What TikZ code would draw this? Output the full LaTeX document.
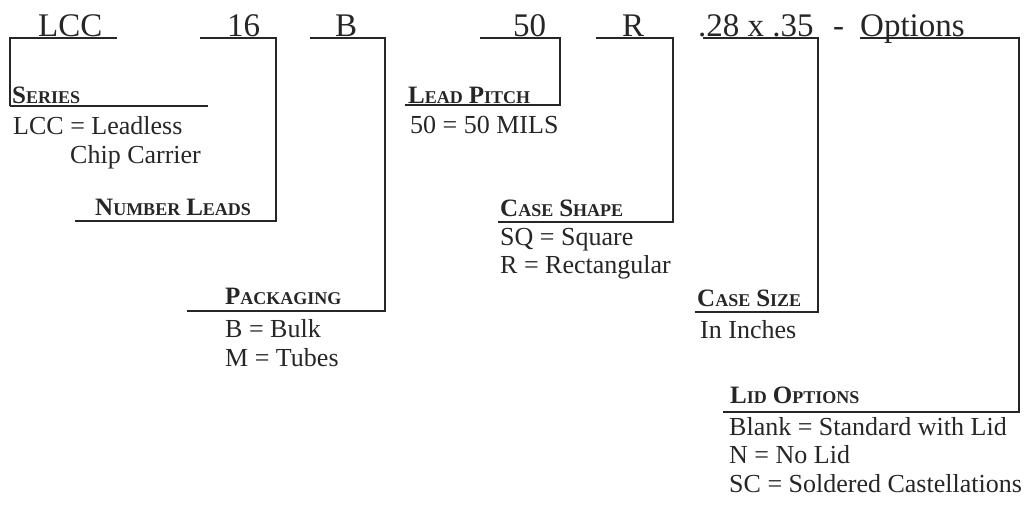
\documentclass[tikz,border=0pt]{standalone}
\usepackage{fontspec}
\setmainfont{Liberation Serif}
\usetikzlibrary{positioning}
\newcommand{\hdr}{\fontsize{33}{36}\selectfont}
\newcommand{\txt}{\fontsize{26}{28}\selectfont}
\newcommand{\sch}[2]{{\bfseries\fontsize{25}{28}\selectfont #1}{\bfseries\fontsize{18}{20}\selectfont #2}}
\newcommand{\gap}{\hspace{6pt}}

\begin{document}
\begin{tikzpicture}[x=1pt, y=-1pt,
    every node/.style={inner sep=0pt, anchor=base west, text=black!85},
    bracket/.style={line width=1.6pt, black!85}]
        \useasboundingbox (0,0) rectangle (1027,504);

        % code fields
        \node (lcc) at (38,36) {\hdr LCC};
        \node (leads) at (227,36) {\hdr 16};
        \node (pack) at (335,36) {\hdr B};
        \node (pitch) at (513,36) {\hdr 50};
        \node (shape) at (622,36) {\hdr R};
        \node (size) at (698,36) {\hdr .28 x .35};
        \node (dash) at (833,36) {\hdr -};
        \node (opt) at (860,36) {\hdr Options};

        % headings
        \node (t1) at (12,103) {\sch{S}{ERIES}};
        \node (t2) at (95,215) {\sch{N}{UMBER}\gap\sch{L}{EADS}};
        \node (t3) at (225,304) {\sch{P}{ACKAGING}};
        \node (t4) at (408,103) {\sch{L}{EAD}\gap\sch{P}{ITCH}};
        \node (t5) at (500,216) {\sch{C}{ASE}\gap\sch{S}{HAPE}};
        \node (t6) at (697,306) {\sch{C}{ASE}\gap\sch{S}{IZE}};
        \node (t7) at (730,403) {\sch{L}{ID}\gap\sch{O}{PTIONS}};

        % values
        \node (v1) at (13,134) {\txt LCC = Leadless};
        \node (v1b) at (70,163) {\txt Chip Carrier};
        \node (v3) at (225,337) {\txt B = Bulk};
        \node (v3b) at (225,366) {\txt M = Tubes};
        \node (v4) at (410,133) {\txt 50 = 50 MILS};
        \node (v5) at (500,245) {\txt SQ = Square};
        \node (v5b) at (500,273) {\txt R = Rectangular};
        \node (v6) at (700,338) {\txt In Inches};
        \node (v7) at (729,435) {\txt Blank = Standard with Lid};
        \node (v7b) at (729,463) {\txt N = No Lid};
        \node (v7c) at (729,492) {\txt SC = Soldered Castellations};

        % bracket corners
        \coordinate (a1) at (117,38);  \coordinate (b1) at (10,38);
        \coordinate (c1) at (10,106);  \coordinate (d1) at (208,106);
        \coordinate (a2) at (200,38);  \coordinate (b2) at (276,38);
        \coordinate (d2) at (75,221);
        \coordinate (a3) at (310,38);  \coordinate (b3) at (385,38);
        \coordinate (d3) at (187,311);
        \coordinate (a4) at (480,38);  \coordinate (b4) at (560,38);
        \coordinate (d4) at (405,105);
        \coordinate (a5) at (596,38);  \coordinate (b5) at (673,38);
        \coordinate (d5) at (498,222);
        \coordinate (a6) at (703,38);  \coordinate (b6) at (818,38);
        \coordinate (d6) at (695,312);
        \coordinate (a7) at (860,38);  \coordinate (b7) at (1019,38);
        \coordinate (d7) at (723,412);

        \draw[bracket] (a1) -- (b1) -- (c1);
        \draw[bracket] (c1) -- (d1);
        \draw[bracket] (a2) -- (b2) |- (d2);
        \draw[bracket] (a3) -- (b3) |- (d3);
        \draw[bracket] (a4) -- (b4) |- (d4);
        \draw[bracket] (a5) -- (b5) |- (d5);
        \draw[bracket] (a6) -- (b6) |- (d6);
        \draw[bracket] (a7) -- (b7) |- (d7);
      \end{tikzpicture}
\end{document}
